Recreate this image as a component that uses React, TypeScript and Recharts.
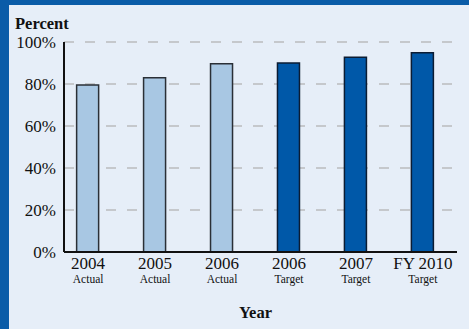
import { BarChart, Bar, XAxis, YAxis, CartesianGrid, Cell, Label } from "recharts"

// bar labels and values
const years = ["2004", "2005", "2006", "2006", "2007", "FY 2010"]
const kinds = ["Actual", "Actual", "Actual", "Target", "Target", "Target"]
const percents = [79.5, 83, 89.7, 90, 92.7, 94.9]
const yTicks = [0, 20, 40, 60, 80, 100]

const FONT = '"Liberation Serif", "Times New Roman", serif'
const ACTUAL_FILL = "#a8c7e3"
const TARGET_FILL = "#0058a8"

const data = years.map((year, i) => ({
  idx: i,
  year,
  kind: kinds[i],
  value: percents[i],
}))

function YearTick(props: any) {
  const { x, y, payload } = props
  const d = data[payload.value]
  if (!d) return null
  return (
    <g transform={`translate(${x},${y})`}>
      <text x={0} y={17} textAnchor="middle" fontFamily={FONT} fontSize={17} fill="#111">
        {d.year}
      </text>
      <text x={0} y={31} textAnchor="middle" fontFamily={FONT} fontSize={11.5} fill="#111">
        {d.kind}
      </text>
    </g>
  )
}

function PercentTitle(props: any) {
  const { viewBox } = props
  return (
    <text x={viewBox.x + 15} y={viewBox.y - 13} fontFamily={FONT} fontSize={16.5} fontWeight="bold" fill="#111">
      Percent
    </text>
  )
}

export default function App() {
  return (
    <div
      style={{
        position: "absolute",
        left: 0,
        top: 0,
        width: 469,
        height: 329,
        boxSizing: "border-box",
        background: "#e6eef8",
        borderLeft: "9px solid #0a5ca8",
        borderTop: "5px solid #0a5ca8",
      }}
    >
      <div style={{ position: "absolute", left: -9, top: -5 }}>
        <BarChart width={469} height={329} data={data} margin={{ top: 42, right: 12, left: 0, bottom: 0 }}>
          <CartesianGrid
            vertical={false}
            stroke="#c5c8cc"
            strokeWidth={2}
            strokeDasharray="10 11"
          />
          <XAxis
            type="number"
            dataKey="idx"
            domain={[-0.36, 5.51]}
            ticks={[0, 1, 2, 3, 4, 5]}
            allowDataOverflow
            height={77}
            tickLine={false}
            tickSize={0}
            tickMargin={0}
            tick={<YearTick />}
            axisLine={{ stroke: "#111", strokeWidth: 2 }}
          >
            <Label
              value="Year"
              position="insideBottom"
              offset={11}
              dx={-5}
              style={{ fontFamily: FONT, fontSize: 16.5, fontWeight: "bold", fill: "#111" }}
            />
          </XAxis>
          <YAxis
            width={64}
            domain={[0, 100]}
            ticks={yTicks}
            tickFormatter={(v) => `${v}%`}
            tickLine={false}
            tickSize={0}
            tickMargin={8}
            tick={{ fontFamily: FONT, fontSize: 17, fill: "#111" }}
            axisLine={{ stroke: "#111", strokeWidth: 2 }}
          >
            <Label content={<PercentTitle />} />
          </YAxis>
          <Bar dataKey="value" barSize={22} isAnimationActive={false}>
            {data.map((d, i) => (
              <Cell
                key={i}
                fill={d.kind === "Actual" ? ACTUAL_FILL : TARGET_FILL}
                stroke={d.kind === "Actual" ? "#2a2f36" : "#0b1c33"}
                strokeWidth={1.5}
              />
            ))}
          </Bar>
        </BarChart>
      </div>
    </div>
  )
}
